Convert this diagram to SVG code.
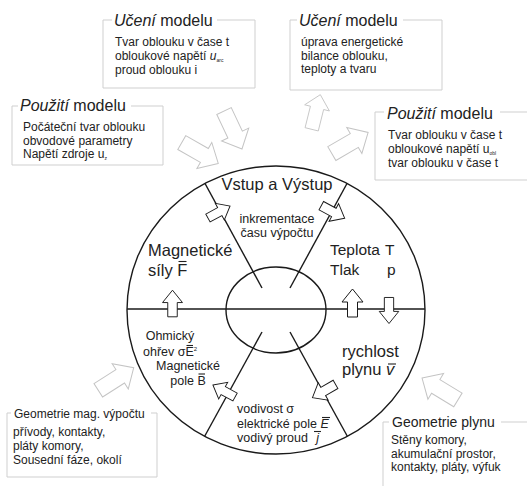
<svg xmlns="http://www.w3.org/2000/svg" xmlns:xlink="http://www.w3.org/1999/xlink" width="527" height="486" viewBox="0 0 527 486">
<style>
text{font-family:"Liberation Sans",Arial,sans-serif;fill:#222}
.t16{font-size:16px}
.t12{font-size:12px}
.big{font-size:16.5px}
.sm{font-size:12.5px}
.box{fill:none;stroke:#cfcfcf;stroke-width:1}
.ring{fill:none;stroke:#1a1a1a;stroke-width:1.4}
.div{stroke:#1a1a1a;stroke-width:1.4}
.bar{stroke:#222;stroke-width:1.1}
.sa{fill:#fff;stroke:#1a1a1a;stroke-width:1}
.ba{fill:#fff;stroke:#c4c4c4;stroke-width:1}
</style>
<defs>
<path id="sa" d="M0,-14 L10.5,-1 L5,-1 L5,14 L-5,14 L-5,-1 L-10.5,-1 Z"/>
<path id="ba" d="M0,-21 L15,-5 L8,-5 L8,21 L-8,21 L-8,-5 L-15,-5 Z"/>
<clipPath id="oc"><ellipse cx="276" cy="310" rx="149" ry="144"/></clipPath>
</defs>
<rect width="527" height="486" fill="#fff"/>

<g id="ring">
<ellipse class="ring" cx="276" cy="310" rx="149" ry="144" fill="#fff"/>
<g clip-path="url(#oc)">
<line class="div" x1="100" y1="309" x2="276" y2="309"/>
<line class="div" x1="276" y1="309" x2="450" y2="309"/>
<line class="div" x1="196" y1="167" x2="262" y2="288"/>
<line class="div" x1="356" y1="167" x2="290" y2="288"/>
<line class="div" x1="262" y1="332" x2="196" y2="452"/>
<line class="div" x1="290" y1="332" x2="356" y2="452"/>
</g>
<ellipse class="ring" cx="276" cy="310" rx="50" ry="43" fill="#fff"/>
</g>

<g id="seg-vstup">
<text class="big" x="277" y="190" text-anchor="middle">Vstup a Výstup</text>
<text class="sm" x="277" y="223" text-anchor="middle">inkrementace</text>
<text class="sm" x="277" y="237" text-anchor="middle">času výpočtu</text>
</g>
<g id="seg-magsily">
<text class="big" x="148" y="256">Magnetické</text>
<text class="big" x="148" y="276">síly F</text>
<line class="bar" x1="178.5" y1="261.5" x2="186.5" y2="261.5"/>
</g>
<g id="seg-teplota">
<text style="font-size:15.5px" y="255"><tspan x="330">Teplota</tspan><tspan x="385">T</tspan></text>
<text style="font-size:15.5px" y="275"><tspan x="330">Tlak</tspan><tspan x="387">p</tspan></text>
</g>
<g id="seg-rychlost">
<text class="big" x="342" y="357">rychlost</text>
<text class="big" x="342" y="375">plynu <tspan font-style="italic">v</tspan></text>
<line class="bar" x1="388" y1="364" x2="396" y2="364"/>
</g>
<g id="seg-vodivost">
<text class="sm" x="237" y="413">vodivost σ</text>
<text class="sm" x="237" y="428">elektrické pole <tspan font-style="italic">E</tspan></text>
<line class="bar" x1="322" y1="417.5" x2="330" y2="417.5"/>
<text class="sm" x="237" y="442">vodivý proud <tspan font-style="italic" dx="5">j</tspan></text>
<line class="bar" x1="314" y1="431.5" x2="321" y2="431.5"/>
</g>
<g id="seg-ohmicky">
<text class="sm" x="170" y="340" text-anchor="middle">Ohmický</text>
<text class="sm" x="143" y="356">ohřev σE<tspan font-size="6" dy="-5">2</tspan></text>
<line class="bar" x1="186.5" y1="345.5" x2="193" y2="345.5"/>
<text class="sm" x="188" y="370" text-anchor="middle">Magnetické</text>
<text class="sm" x="170.3" y="385">pole B</text>
<line class="bar" x1="198.5" y1="374" x2="205" y2="374"/>
</g>

<g id="connectors">
<use xlink:href="#sa" class="sa" transform="translate(219,212) rotate(61.4) scale(0.9)"/>
<use xlink:href="#sa" class="sa" transform="translate(333,212) rotate(118.4) scale(0.95)"/>
<use xlink:href="#sa" class="sa" transform="translate(172.5,303.5) scale(0.95)"/>
<use xlink:href="#sa" class="sa" transform="translate(352.5,303)"/>
<use xlink:href="#sa" class="sa" transform="translate(389,310.5) rotate(180) scale(0.93)"/>
<use xlink:href="#sa" class="sa" transform="translate(224,391) rotate(-61.5) scale(0.9)"/>
<use xlink:href="#sa" class="sa" transform="translate(324,391) rotate(-120) scale(0.95)"/>
<use xlink:href="#ba" class="ba" transform="translate(200,153) rotate(119.7)"/>
<use xlink:href="#ba" class="ba" transform="translate(233,130) rotate(154.7)"/>
<use xlink:href="#ba" class="ba" transform="translate(316,112) rotate(14) scale(0.85)"/>
<use xlink:href="#ba" class="ba" transform="translate(350,143) rotate(59.7)"/>
<use xlink:href="#ba" class="ba" transform="translate(116,379) rotate(57.5)"/>
<use xlink:href="#ba" class="ba" transform="translate(440,389) rotate(-58.6)"/>
</g>

<g id="box-uceni-1">
<path class="box" d="M112,20 H103 V88 H255 V20 H217"/>
<text class="t16" x="114" y="26"><tspan font-style="italic">Učení</tspan> modelu</text>
<text class="t12" x="115" y="46">Tvar oblouku v čase t</text>
<text class="t12" x="115" y="60">obloukové napětí <tspan font-style="italic">u</tspan><tspan font-size="5" dy="1.5">arc</tspan></text>
<text class="t12" x="115" y="74">proud oblouku i</text>
</g>
<g id="box-pouziti-1">
<path class="box" d="M18,106 H12 V165 H163 V106 H131"/>
<text class="t16" x="20" y="111"><tspan font-style="italic">Použití</tspan> modelu</text>
<text class="t12" x="23" y="131">Počáteční tvar oblouku</text>
<text class="t12" x="23" y="144.5">obvodové parametry</text>
<text class="t12" x="23" y="158">Napětí zdroje u<tspan font-size="5" dy="1.5">z</tspan></text>
</g>
<g id="box-uceni-2">
<path class="box" d="M297,20 H290 V90 H442 V20 H403"/>
<text class="t16" x="299" y="26"><tspan font-style="italic">Učení</tspan> modelu</text>
<text class="t12" x="301" y="46">úprava energetické</text>
<text class="t12" x="301" y="59.5">bilance oblouku,</text>
<text class="t12" x="301" y="73">teploty a tvaru</text>
</g>
<g id="box-pouziti-2">
<path class="box" d="M384,112 H375 V180 H527 M527,112 H500"/>
<text class="t16" x="387" y="119"><tspan font-style="italic">Použití</tspan> modelu</text>
<text class="t12" x="388" y="139">Tvar oblouku v čase t</text>
<text class="t12" x="388" y="153">obloukové napětí u<tspan font-size="5" dy="1.5">obl</tspan></text>
<text class="t12" x="388" y="167">tvar oblouku v čase t</text>
</g>
<g id="box-geom-mag">
<path class="box" d="M11,413 H7 V477 H157 V413 H151"/>
<text class="t12" x="14" y="418">Geometrie mag. výpočtu</text>
<text class="t12" x="13" y="436">přívody, kontakty,</text>
<text class="t12" x="13" y="450">pláty komory,</text>
<text class="t12" x="13" y="464">Sousední fáze, okolí</text>
</g>
<g id="box-geom-plyn">
<path class="box" d="M389,422 H383 V486 M527,422 H501"/>
<text x="392" y="427" style="font-size:14px">Geometrie plynu</text>
<text class="t12" x="391" y="444">Stěny komory,</text>
<text class="t12" x="391" y="458">akumulační prostor,</text>
<text class="t12" x="391" y="471">kontakty, pláty, výfuk</text>
</g>
</svg>
